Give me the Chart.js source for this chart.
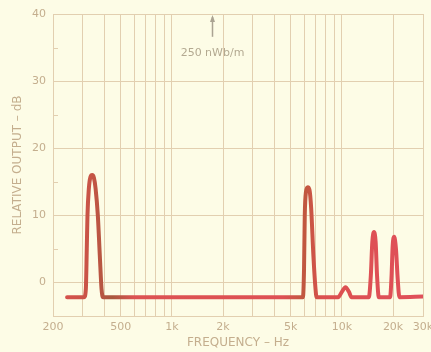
<!DOCTYPE html>
<html>
<head>
<meta charset="utf-8">
<script src="https://cdn.jsdelivr.net/npm/chart.js@4/dist/chart.umd.min.js"></script>
<style>
  html, body { margin: 0; padding: 0; background: #fdfce6; }
  #wrap { width: 431px; height: 352px; }
</style>
</head>
<body>
<div id="wrap"><canvas id="chart" width="431" height="352"></canvas></div>
<script>
// measured response, frequency in Hz / level in dB
const freqs = [242, 305, 312, 316, 319, 325, 332, 340, 348, 356, 367, 377, 386, 394,
  5900, 5990, 6050, 6150, 6300, 6450, 6600, 6800, 7000, 7100,
  9500, 10000, 10500, 11000, 11400,
  14400, 14800, 15100, 15450, 15800, 16100, 16500,
  19200, 19600, 19900, 20300, 20800, 21300, 21800, 30000];
const levels = [-2.2, -2.2, -1, 5, 10, 14, 15.7, 16, 15.6, 14, 10, 4, -1, -2.2,
  -2.2, 2, 10, 13.5, 14.2, 13.8, 11, 4, -1, -2.2,
  -2.2, -1.4, -0.7, -1.4, -2.2,
  -2.2, 1, 6, 7.5, 6, 1, -2.2,
  -2.2, 1, 5.5, 6.8, 5, 0.5, -2.2, -2.1];

const gridFreqs = [200, 300, 400, 500, 600, 700, 800, 900, 1000,
  2000, 3000, 4000, 5000, 6000, 7000, 8000, 9000, 10000, 20000, 30000];
const freqLabels = { 200: "200", 500: "500", 1000: "1k", 2000: "2k", 5000: "5k",
  10000: "10k", 20000: "20k", 30000: "30k" };
const dbTicks = [-5, 0, 10, 20, 30, 40];
const dbMinor = [5, 15, 25, 35];

const markFreq = 1720;
const markTop = 40;
const markBottom = 36.6;
const markLabel = "250 nWb/m";
const markLabelDb = 34.1;

const inkColor = "#c4ae8e";
const gridColor = "#e2cfb0";

const paper = {
  id: "paper",
  beforeDraw(chart) {
    const ctx = chart.ctx;
    ctx.save();
    ctx.fillStyle = "#fdfce6";
    ctx.fillRect(0, 0, chart.width, chart.height);
    ctx.restore();
  }
};

const extras = {
  id: "extras",
  afterDraw(chart) {
    const { ctx, scales: { x, y } } = chart;
    ctx.save();
    // minor ticks on the dB axis
    ctx.strokeStyle = gridColor;
    ctx.lineWidth = 1;
    dbMinor.forEach(v => {
      const py = Math.round(y.getPixelForValue(v)) + 0.5;
      ctx.beginPath();
      ctx.moveTo(x.left, py);
      ctx.lineTo(x.left + 5, py);
      ctx.stroke();
    });
    // reference level arrow
    const ax = Math.round(x.getPixelForValue(markFreq)) + 0.5;
    const top = y.getPixelForValue(markTop);
    const bot = y.getPixelForValue(markBottom);
    ctx.strokeStyle = "#aaa392";
    ctx.fillStyle = "#aaa392";
    ctx.lineWidth = 1.5;
    ctx.beginPath();
    ctx.moveTo(ax, bot);
    ctx.lineTo(ax, top + 3);
    ctx.stroke();
    ctx.beginPath();
    ctx.moveTo(ax, top + 1);
    ctx.lineTo(ax - 2.5, top + 8);
    ctx.lineTo(ax + 2.5, top + 8);
    ctx.closePath();
    ctx.fill();
    ctx.font = "11px 'DejaVu Sans'";
    ctx.fillStyle = "#b3a991";
    ctx.textAlign = "center";
    ctx.textBaseline = "middle";
    ctx.fillText(markLabel, ax, y.getPixelForValue(markLabelDb));
    ctx.restore();
  }
};

// pen colour drifts between brown and red along the trace
function penColor(context) {
  const area = context.chart.chartArea;
  if (!area) return "#d6504b";
  const g = context.chart.ctx.createLinearGradient(area.left, 0, area.right, 0);
  g.addColorStop(0, "#dc5050");
  g.addColorStop(0.1, "#c85446");
  g.addColorStop(0.16, "#a8583e");
  g.addColorStop(0.22, "#dc5252");
  g.addColorStop(0.62, "#de5054");
  g.addColorStop(0.68, "#c0583f");
  g.addColorStop(0.73, "#dc5050");
  g.addColorStop(1, "#e0505a");
  return g;
}

new Chart(document.getElementById("chart"), {
  type: "line",
  data: {
    datasets: [{
      data: freqs.map((f, i) => ({ x: f, y: levels[i] })),
      borderColor: penColor,
      borderWidth: 4,
      pointRadius: 0,
      cubicInterpolationMode: "monotone",
      borderCapStyle: "round",
      borderJoinStyle: "round",
      fill: false
    }]
  },
  options: {
    responsive: false,
    animation: false,
    devicePixelRatio: 1,
    layout: { padding: { top: 14, right: 8, left: 0, bottom: 0 } },
    plugins: { legend: { display: false }, tooltip: { enabled: false } },
    scales: {
      x: {
        type: "logarithmic",
        min: 200,
        max: 30000,
        afterBuildTicks: s => { s.ticks = gridFreqs.map(v => ({ value: v })); },
        afterFit: s => { s.height = 36; s.paddingLeft = 0; s.paddingRight = 0; },
        ticks: {
          autoSkip: false,
          maxRotation: 0,
          padding: 5,
          color: inkColor,
          font: { family: "DejaVu Sans", size: 11 },
          callback: v => freqLabels[v] ?? ""
        },
        grid: { color: gridColor, drawTicks: false },
        border: { color: gridColor },
        title: {
          display: true,
          text: "FREQUENCY – Hz",
          color: inkColor,
          font: { family: "DejaVu Sans", size: 12 },
          padding: { top: 0, bottom: 2 }
        }
      },
      y: {
        type: "linear",
        min: -5,
        max: 40,
        afterBuildTicks: s => { s.ticks = dbTicks.map(v => ({ value: v })); },
        afterFit: s => { s.width = 53; },
        ticks: {
          padding: 7,
          color: inkColor,
          font: { family: "DejaVu Sans", size: 11 },
          callback: v => (v >= 0 ? String(v) : "")
        },
        grid: { color: gridColor, drawTicks: false },
        border: { color: gridColor },
        title: {
          display: true,
          text: "RELATIVE OUTPUT – dB",
          color: inkColor,
          font: { family: "DejaVu Sans", size: 12 },
          padding: { top: 11, bottom: 0 }
        }
      }
    }
  },
  plugins: [paper, extras]
});
</script>
</body>
</html>
